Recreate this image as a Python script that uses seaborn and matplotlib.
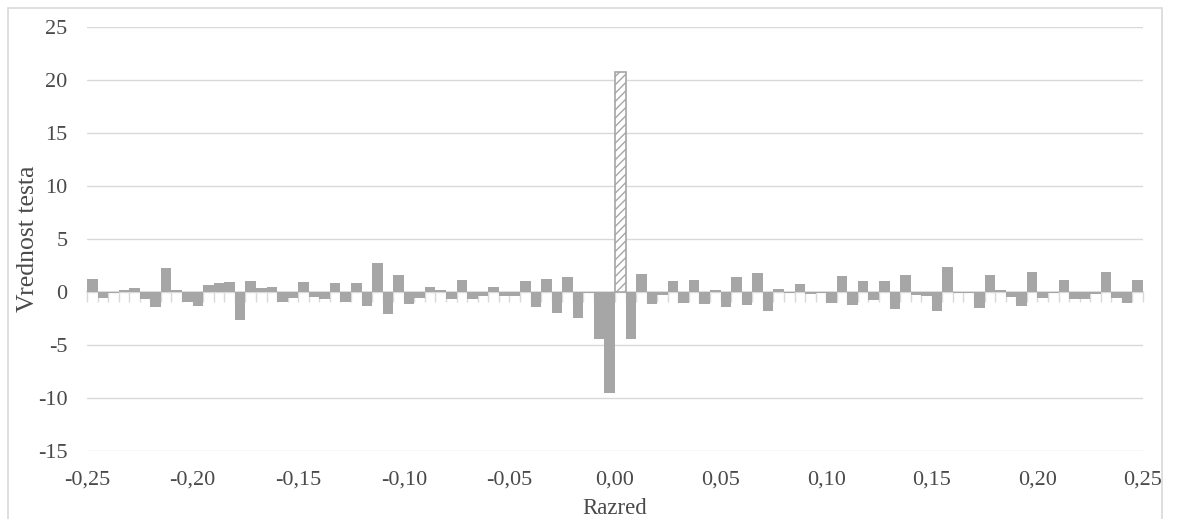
import numpy as np
import pandas as pd
import matplotlib
matplotlib.use("Agg")
import matplotlib.pyplot as plt
from matplotlib.patches import Rectangle
import seaborn as sns

# ---- data ----
bin_start = -0.25
bin_width = 0.005
values = [
    1.2, -0.6, -0.1, 0.15, 0.35, -0.7, -1.4, 2.3, 0.2, -0.95,
    -1.3, 0.7, 0.85, 0.97, -2.6, 1.07, 0.35, 0.5, -0.95, -0.6,
    0.97, -0.45, -0.7, 0.85, -0.92, 0.88, -1.3, 2.7, -2.1, 1.58,
    -1.12, -0.55, 0.5, 0.15, -0.65, 1.1, -0.65, -0.42, 0.5, -0.42,
    -0.42, 1.0, -1.38, 1.22, -1.98, 1.38, -2.45, -0.05, -4.4, -9.5,
    20.8, -4.4, 1.7, -1.12, -0.25, 1.0, -1.02, 1.12, -1.12, 0.18,
    -1.38, 1.4, -1.25, 1.75, -1.8, 0.3, -0.1, 0.8, -0.2, -0.05,
    -1.0, 1.5, -1.25, 1.0, -0.8, 1.0, -1.6, 1.6, -0.25, -0.4,
    -1.75, 2.35, -0.05, -0.1, -1.5, 1.6, 0.2, -0.5, -1.35, 1.85,
    -0.6, -0.05, 1.15, -0.7, -0.7, -0.15, 1.85, -0.6, -1.0, 1.15,
]
highlight_index = 50  # bin [0.000, 0.005)
x_ticks = [-0.25, -0.20, -0.15, -0.10, -0.05, 0.00, 0.05, 0.10, 0.15, 0.20, 0.25]
y_ticks = [-15, -10, -5, 0, 5, 10, 15, 20, 25]
x_label = "Razred"
y_label = "Vrednost testa"

n = len(values)
edges = np.round(bin_start + bin_width * np.arange(n + 1), 4)
centers = (edges[:-1] + edges[1:]) / 2
df = pd.DataFrame({"razred": centers, "vrednost": values})

# ---- style ----
sns.set_theme(style="white")
plt.rcParams["font.family"] = ["Liberation Serif", "DejaVu Serif"]
plt.rcParams["hatch.linewidth"] = 1.0

bar_color = "#a6a6a6"
grid_color = "#d9d9d9"
text_color = "#4a4a4a"

fig = plt.figure(figsize=(11.8, 5.19), dpi=100)
ax = fig.add_axes([87 / 1180, 1 - 451 / 519, (1143 - 87) / 1180, (451 - 27) / 519])

sns.barplot(data=df, x="razred", y="vrednost", native_scale=True, width=1.0,
            color=bar_color, saturation=1, linewidth=0, errorbar=None, ax=ax,
            zorder=3)

# highlighted bar: white with hatch
hp = ax.patches[highlight_index]
hp.set_facecolor("white")
hp.set_edgecolor(bar_color)
hp.set_hatch("////")
hp.set_linewidth(1.2)

ax.set_xlim(x_ticks[0], x_ticks[-1])
ax.set_ylim(y_ticks[0], y_ticks[-1])
ax.set_yticks(y_ticks)
ax.set_yticklabels([str(v) for v in y_ticks])
ax.set_xticks(x_ticks)
ax.set_xticklabels([f"{v + 0.0:.2f}".replace(".", ",") for v in x_ticks])

ax.yaxis.grid(True, color=grid_color, linewidth=1)
ax.xaxis.grid(False)
ax.set_axisbelow(True)
for s in ax.spines.values():
    s.set_visible(False)
ax.tick_params(axis="both", length=0, labelsize=16, colors=text_color)
ax.tick_params(axis="y", pad=14)
ax.tick_params(axis="x", pad=14)

ax.set_xlabel(x_label, fontsize=16.5, color=text_color, va="center")
ax.set_ylabel(y_label, fontsize=18.5, color=text_color, va="center")
ax.xaxis.set_label_coords(0.5, (451 - 508) / 424)
ax.yaxis.set_label_coords((28 - 87) / 1056, 0.5)

# category axis at y = 0 with tick marks at every bin edge
zero_pos = (0 - y_ticks[0]) / (y_ticks[-1] - y_ticks[0])
sec = ax.secondary_xaxis(zero_pos)
sec.set_zorder(1)
sec.set_xticks(edges)
sec.tick_params(axis="x", length=7, width=1, color=grid_color, labelbottom=False,
                labeltop=False, direction="out")
for s in sec.spines.values():
    s.set_color(grid_color)

# chart-area border
fig.patches.append(Rectangle((8 / 1180, -0.05), (1162 - 8) / 1180, 1.05 - 8 / 519,
                             transform=fig.transFigure, fill=False,
                             edgecolor=grid_color, linewidth=1.2))

fig.savefig("out.png", dpi=100)
